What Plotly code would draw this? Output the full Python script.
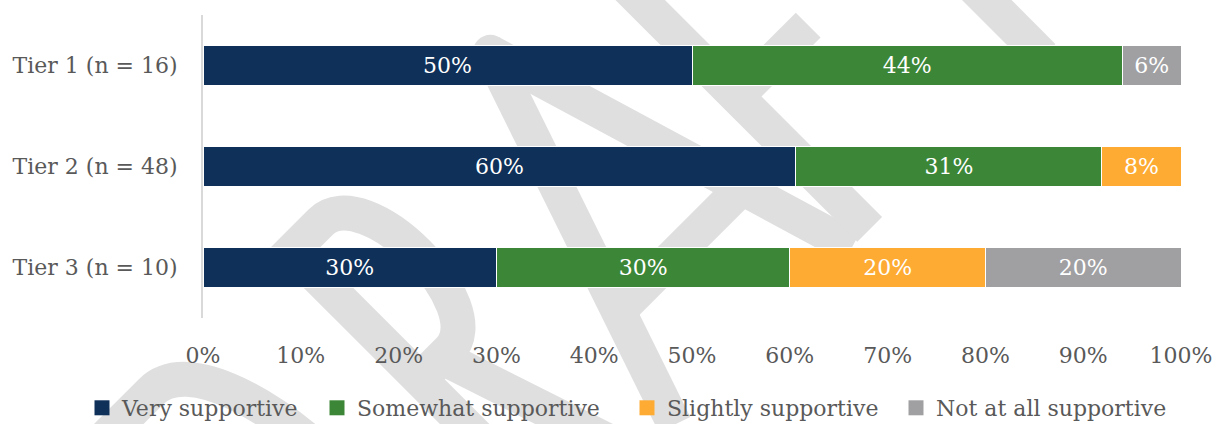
import math
import plotly.graph_objects as go

# Survey results by tier (percent of respondents)
tiers = ["Tier 1 (n = 16)", "Tier 2 (n = 48)", "Tier 3 (n = 10)"]
very_supportive = [50, 60, 30]
somewhat_supportive = [44, 31, 30]
slightly_supportive = [0, 8, 20]
not_at_all_supportive = [6, 0, 20]

series = [
    ("Very supportive", very_supportive, "#0E3059"),
    ("Somewhat supportive", somewhat_supportive, "#3C8737"),
    ("Slightly supportive", slightly_supportive, "#FEAB33"),
    ("Not at all supportive", not_at_all_supportive, "#A0A0A3"),
]

FONT = "DejaVu Serif"
GREY_TEXT = "#595959"

# figure / plot-area geometry in pixels
W, H = 1222, 424
M_L, M_R, M_T, M_B = 203, 41, 15, 106
PW, PH = W - M_L - M_R, H - M_T - M_B

fig = go.Figure()
legend_ids = ["legend", "legend2", "legend3", "legend4"]
for (name, vals, color), lg in zip(series, legend_ids):
    fig.add_trace(go.Bar(
        name=name,
        y=tiers,
        x=vals,
        orientation="h",
        marker=dict(color=color, line=dict(color="#FFFFFF", width=1)),
        text=[f"{v}%" if v > 0 else "" for v in vals],
        textposition="inside",
        insidetextanchor="middle",
        textangle=0,
        textfont=dict(family=FONT, size=22, color="#FFFFFF"),
        hoverinfo="skip",
        showlegend=False,
    ))
    # legend entry with a larger square swatch
    fig.add_trace(go.Scatter(
        name=name,
        x=[None], y=[None],
        mode="markers",
        marker=dict(symbol="square", size=15, color=color),
        hoverinfo="skip",
        showlegend=True,
        legend=lg,
    ))

# ---- "DRAFT" watermark, drawn as stroked letter outlines behind the bars ----
WM_COLOR = "#DFDFDF"
WM_STROKE = 35
WM_ORIGIN = (478, 40)      # outer tip of the A apex (px)
WM_CAP = 411               # outer cap height (px)
WM_ANGLE = math.radians(45)
HC = WM_CAP - WM_STROKE / 2  # centreline cap height


def wm_px(a, h):
    """letter frame (a along baseline, h above baseline) -> pixel coords"""
    c, s = math.cos(WM_ANGLE), math.sin(WM_ANGLE)
    X = WM_ORIGIN[0] + a * c - (h - WM_CAP) * s
    Y = WM_ORIGIN[1] - a * s - (h - WM_CAP) * c
    return X, Y


def wm_paper(a, h):
    X, Y = wm_px(a, h)
    return (X - M_L) / PW, (M_T + PH - Y) / PH


def wm_path(cmds):
    out = []
    for cmd in cmds:
        op, pts = cmd[0], cmd[1:]
        coords = " ".join("{:.4f},{:.4f}".format(*wm_paper(*p)) for p in pts)
        out.append(f"{op}{coords}")
    return " ".join(out)


letters = [
    # D
    [("M", (-575, 0)), ("L", (-575, HC))],
    [("M", (-592, HC)), ("L", (-480, HC)), ("C", (-375, HC), (-375, 0), (-480, 0)), ("L", (-592, 0))],
    # R
    [("M", (-281, 0)), ("L", (-281, HC))],
    [("M", (-298, HC)), ("L", (-240, HC)), ("C", (-178, HC), (-178, 212), (-240, 212)), ("L", (-281, 212))],
    [("M", (-250, 212)), ("L", (-180, 0))],
    # A
    [("M", (-133, 0)), ("L", (0, HC))],
    [("M", (0, HC)), ("L", (118, 0))],
    [("M", (-92, 120)), ("L", (82, 120))],
    # F
    [("M", (143, 0)), ("L", (143, HC))],
    [("M", (126, HC)), ("L", (300, HC))],
    [("M", (126, 188)), ("L", (244, 188))],
    # T
    [("M", (388, 0)), ("L", (388, HC))],
    [("M", (268, HC)), ("L", (508, HC))],
]

for cmds in letters:
    fig.add_shape(
        type="path", xref="paper", yref="paper",
        path=wm_path(cmds),
        layer="below",
        line=dict(color=WM_COLOR, width=WM_STROKE),
    )

# rounded apex of the A
ax, ay = wm_px(0, HC)
r = WM_STROKE / 2
fig.add_shape(
    type="circle", xref="paper", yref="paper",
    x0=(ax - r - M_L) / PW, x1=(ax + r - M_L) / PW,
    y0=(M_T + PH - ay - r) / PH, y1=(M_T + PH - ay + r) / PH,
    layer="below",
    line=dict(width=0),
    fillcolor=WM_COLOR,
)

# one legend per entry so each swatch sits at its own position
legend_x_px = [82, 317, 627, 896]
legend_common = dict(
    orientation="h",
    xanchor="left",
    y=-0.297, yanchor="middle",
    font=dict(family=FONT, size=22, color=GREY_TEXT),
    itemwidth=30,
    bgcolor="rgba(0,0,0,0)",
)
legend_layout = {
    lg: dict(x=(px - M_L) / PW, **legend_common)
    for lg, px in zip(legend_ids, legend_x_px)
}

fig.update_layout(
    width=W,
    height=H,
    margin=dict(l=M_L, r=M_R, t=M_T, b=M_B, autoexpand=False),
    barmode="stack",
    barnorm="percent",
    bargap=0.6,
    plot_bgcolor="rgba(0,0,0,0)",
    paper_bgcolor="#FFFFFF",
    font=dict(family=FONT, size=22, color=GREY_TEXT),
    showlegend=True,
    xaxis=dict(
        range=[0, 100],
        tickvals=list(range(0, 101, 10)),
        ticktext=[f"{t}%" for t in range(0, 101, 10)],
        showgrid=False,
        zeroline=False,
        showline=False,
        ticks="",
        ticklabelstandoff=22,
        tickfont=dict(family=FONT, size=22, color=GREY_TEXT),
    ),
    yaxis=dict(
        autorange="reversed",
        showgrid=False,
        zeroline=False,
        showline=True,
        linecolor="#D9D9D9",
        linewidth=2,
        ticks="",
        ticklabelstandoff=19,
        tickfont=dict(family=FONT, size=22, color=GREY_TEXT),
    ),
    **legend_layout,
)

fig.write_html("out.html")
